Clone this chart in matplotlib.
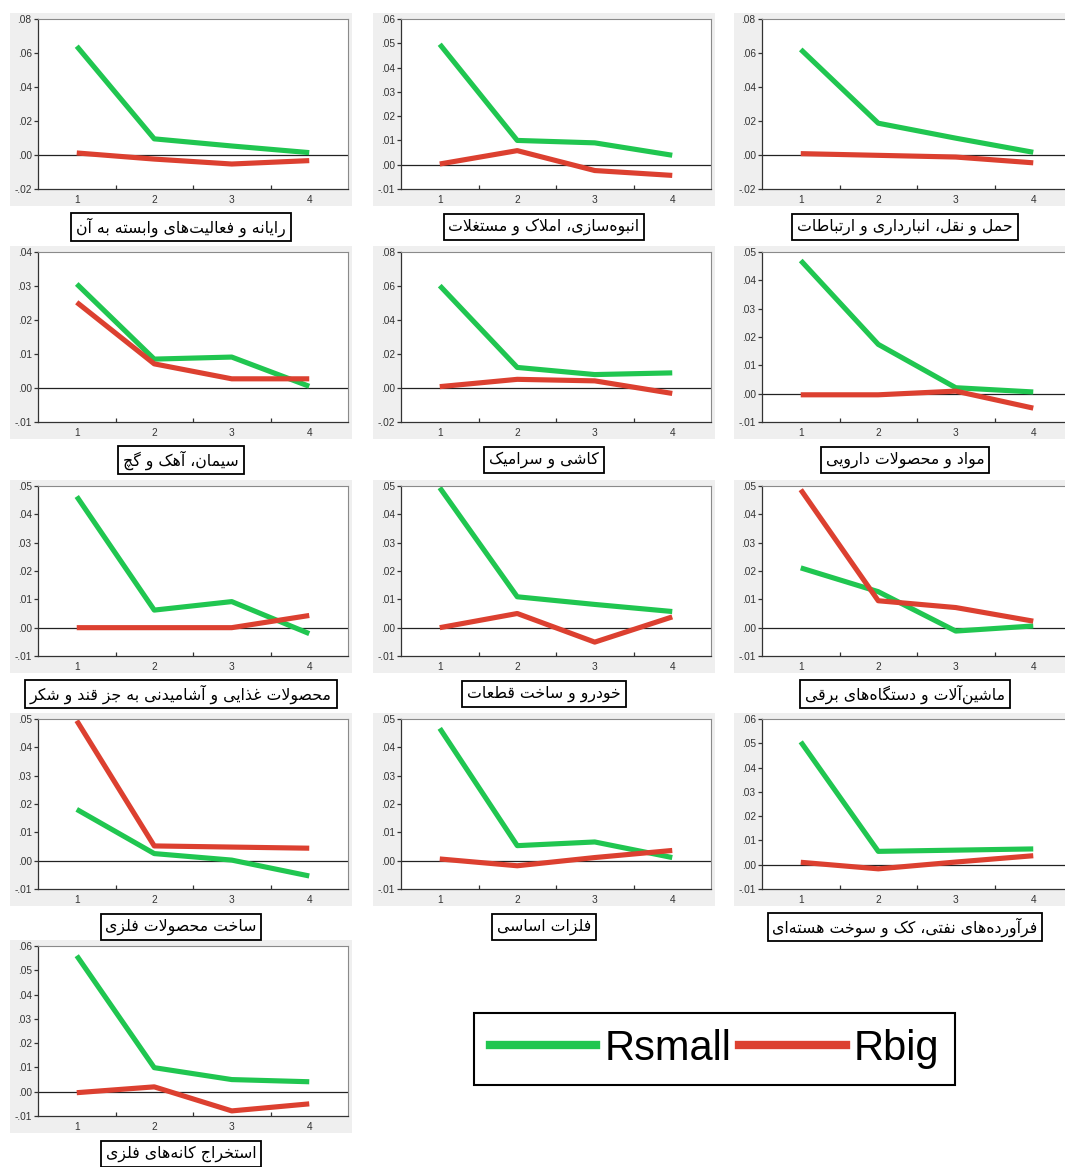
import matplotlib
matplotlib.use("Agg")
import matplotlib.pyplot as plt
from matplotlib.patches import Rectangle
from matplotlib.lines import Line2D
from matplotlib.ticker import FixedLocator, FuncFormatter

# sector names (logical order, shaped below for display)
sectors = [
    "رایانه و فعالیت\u200cهای وابسته به آن",
    "انبوه\u200cسازی، املاک و مستغلات",
    "حمل و نقل، انبارداری و ارتباطات",
    "سیمان، آهک و گچ",
    "کاشی و سرامیک",
    "مواد و محصولات دارویی",
    "محصولات غذایی و آشامیدنی به جز قند و شکر",
    "خودرو و ساخت قطعات",
    "ماشین\u200cآلات و دستگاه\u200cهای برقی",
    "ساخت محصولات فلزی",
    "فلزات اساسی",
    "فرآورده\u200cهای نفتی، کک و سوخت هسته\u200cای",
    "استخراج کانه\u200cهای فلزی",
]

periods = [1, 2, 3, 4]

rsmall = [
    [0.064, 0.0095, 0.0053, 0.0014],
    [0.0496, 0.0100, 0.0090, 0.0039],
    [0.0621, 0.0187, 0.0099, 0.0016],
    [0.0306, 0.0085, 0.0091, 0.0005],
    [0.0602, 0.0121, 0.0079, 0.0089],
    [0.0470, 0.0174, 0.0021, 0.0006],
    [0.0463, 0.0062, 0.0092, -0.0021],
    [0.0494, 0.0109, 0.0082, 0.0057],
    [0.0211, 0.0127, -0.0012, 0.0006],
    [0.0181, 0.0025, 0.0002, -0.0054],
    [0.0467, 0.0053, 0.0066, 0.0011],
    [0.0506, 0.0055, 0.0060, 0.0065],
    [0.0560, 0.0099, 0.0050, 0.0041],
]

rbig = [
    [0.0012, -0.0024, -0.0053, -0.0033],
    [0.0003, 0.0058, -0.0024, -0.0044],
    [0.0008, -0.0002, -0.0012, -0.0046],
    [0.0252, 0.0071, 0.0027, 0.0027],
    [0.0008, 0.0051, 0.0042, -0.0032],
    [-0.0004, -0.0004, 0.0009, -0.0051],
    [0.0000, 0.0000, 0.0000, 0.0043],
    [0.0000, 0.0050, -0.0051, 0.0038],
    [0.0487, 0.0095, 0.0071, 0.0023],
    [0.0494, 0.0052, 0.0048, 0.0044],
    [0.0006, -0.0018, 0.0011, 0.0036],
    [0.0010, -0.0017, 0.0011, 0.0037],
    [-0.0004, 0.0020, -0.0079, -0.0050],
]

# (ymin, ymax, step) of each panel's value axis
y_ranges = [
    (-0.02, 0.08, 0.02),
    (-0.01, 0.06, 0.01),
    (-0.02, 0.08, 0.02),
    (-0.01, 0.04, 0.01),
    (-0.02, 0.08, 0.02),
    (-0.01, 0.05, 0.01),
    (-0.01, 0.05, 0.01),
    (-0.01, 0.05, 0.01),
    (-0.01, 0.05, 0.01),
    (-0.01, 0.05, 0.01),
    (-0.01, 0.05, 0.01),
    (-0.01, 0.06, 0.01),
    (-0.01, 0.06, 0.01),
]

series_names = ["Rsmall", "Rbig"]

GREEN = "#20c650"
RED = "#dc4030"

# --- minimal Persian shaping (matplotlib has no complex text layout) ---
FORMS = {
    "\u0627": (0xFE8D, 0xFE8E), "\u0622": (0xFE81, 0xFE82),
    "\u062F": (0xFEA9, 0xFEAA), "\u0630": (0xFEAB, 0xFEAC),
    "\u0631": (0xFEAD, 0xFEAE), "\u0632": (0xFEAF, 0xFEB0),
    "\u0648": (0xFEED, 0xFEEE), "\uFEFB": (0xFEFB, 0xFEFC),
    "\u0628": (0xFE8F, 0xFE90, 0xFE91, 0xFE92),
    "\u062A": (0xFE95, 0xFE96, 0xFE97, 0xFE98),
    "\u062B": (0xFE99, 0xFE9A, 0xFE9B, 0xFE9C),
    "\u062C": (0xFE9D, 0xFE9E, 0xFE9F, 0xFEA0),
    "\u062D": (0xFEA1, 0xFEA2, 0xFEA3, 0xFEA4),
    "\u062E": (0xFEA5, 0xFEA6, 0xFEA7, 0xFEA8),
    "\u0633": (0xFEB1, 0xFEB2, 0xFEB3, 0xFEB4),
    "\u0634": (0xFEB5, 0xFEB6, 0xFEB7, 0xFEB8),
    "\u0635": (0xFEB9, 0xFEBA, 0xFEBB, 0xFEBC),
    "\u0636": (0xFEBD, 0xFEBE, 0xFEBF, 0xFEC0),
    "\u0637": (0xFEC1, 0xFEC2, 0xFEC3, 0xFEC4),
    "\u0638": (0xFEC5, 0xFEC6, 0xFEC7, 0xFEC8),
    "\u0639": (0xFEC9, 0xFECA, 0xFECB, 0xFECC),
    "\u063A": (0xFECD, 0xFECE, 0xFECF, 0xFED0),
    "\u0641": (0xFED1, 0xFED2, 0xFED3, 0xFED4),
    "\u0642": (0xFED5, 0xFED6, 0xFED7, 0xFED8),
    "\u0644": (0xFEDD, 0xFEDE, 0xFEDF, 0xFEE0),
    "\u0645": (0xFEE1, 0xFEE2, 0xFEE3, 0xFEE4),
    "\u0646": (0xFEE5, 0xFEE6, 0xFEE7, 0xFEE8),
    "\u0647": (0xFEE9, 0xFEEA, 0xFEEB, 0xFEEC),
    "\u06CC": (0xFEEF, 0xFEF0, 0xFEF3, 0xFEF4),
    "\u06A9": (0xFB8E, 0xFB8F, 0xFB90, 0xFB91),
    "\u06AF": (0xFB92, 0xFB93, 0xFB94, 0xFB95),
    "\u0686": (0xFB7A, 0xFB7B, 0xFB7C, 0xFB7D),
}


def shape(text):
    chars = list(text.replace("\u0644\u0627", "\uFEFB"))
    out = []
    for i, c in enumerate(chars):
        if c not in FORMS:
            out.append(c)
            continue
        prev = chars[i - 1] if i > 0 else ""
        nxt = chars[i + 1] if i + 1 < len(chars) else ""
        jp = prev in FORMS and len(FORMS[prev]) == 4
        f = FORMS[c]
        jn = len(f) == 4 and nxt in FORMS
        if len(f) == 2:
            code = f[1] if jp else f[0]
        elif jp and jn:
            code = f[3]
        elif jp:
            code = f[1]
        elif jn:
            code = f[2]
        else:
            code = f[0]
        out.append(chr(code))
    return "".join(out).replace("\u200c", "")[::-1]


def tick_fmt(v, pos):
    s = "%.2f" % v
    return s.replace("0.", ".", 1)


W, H = 1065, 1167
fig = plt.figure(figsize=(W / 100, H / 100), dpi=100)
fig.patch.set_facecolor("white")

col_left = [38, 401, 762]
row_top = [19, 252, 486, 719, 946]
plot_w, plot_h = 310, 170

for k in range(len(sectors)):
    r, c = divmod(k, 3)
    x0, y0 = col_left[c], row_top[r]

    # grey frame around each graph
    fig.patches.append(Rectangle(((x0 - 28) / W, 1 - (y0 + plot_h + 17) / H),
                                 (plot_w + 32) / W, (plot_h + 23) / H,
                                 transform=fig.transFigure, facecolor="#efefef",
                                 edgecolor="none", zorder=-1))

    ax = fig.add_axes([x0 / W, 1 - (y0 + plot_h) / H, plot_w / W, plot_h / H])
    ax.set_facecolor("white")
    ymin, ymax, step = y_ranges[k]
    ax.plot(periods, rsmall[k], color=GREEN, lw=3.7, solid_capstyle="butt")
    ax.plot(periods, rbig[k], color=RED, lw=3.7, solid_capstyle="butt")
    ax.axhline(0, color="#222222", lw=0.9, zorder=1)
    ax.set_xlim(0.5, 4.5)
    ax.set_ylim(ymin, ymax)

    n = int(round((ymax - ymin) / step))
    ax.yaxis.set_major_locator(FixedLocator([ymin + i * step for i in range(n + 1)]))
    ax.yaxis.set_major_formatter(FuncFormatter(tick_fmt))
    ax.xaxis.set_major_locator(FixedLocator(periods))
    ax.xaxis.set_minor_locator(FixedLocator([1.5, 2.5, 3.5]))
    ax.tick_params(axis="x", which="major", length=0, pad=4.5, labelsize=7.3, labelcolor="#333333")
    ax.tick_params(axis="x", which="minor", direction="in", length=3, width=0.9, color="#333333")
    ax.tick_params(axis="y", direction="out", length=3, width=0.9, pad=1.5,
                   labelsize=7.3, labelcolor="#333333", color="#333333")
    for lab in ax.get_xticklabels() + ax.get_yticklabels():
        lab.set_family("Liberation Sans")
    for side in ["left", "bottom"]:
        ax.spines[side].set_color("#333333")
        ax.spines[side].set_linewidth(0.9)
    for side in ["top", "right"]:
        ax.spines[side].set_color("#8a8a8a")
        ax.spines[side].set_linewidth(0.8)

    fig.text((x0 + plot_w / 2 - 12) / W, 1 - (y0 + plot_h + 38) / H, shape(sectors[k]),
             ha="center", va="center", fontsize=11.3, family=["DejaVu Sans"],
             bbox=dict(boxstyle="square,pad=0.3", facecolor="white",
                       edgecolor="black", linewidth=1.3))

handles = [Line2D([], [], color=GREEN, lw=6), Line2D([], [], color=RED, lw=6)]
leg = fig.legend(handles, series_names, loc="center", ncol=2,
                 bbox_to_anchor=((472 + 957) / 2 / W, 1 - 1049 / H),
                 prop={"family": "Liberation Sans", "size": 30},
                 handlelength=2.55, handletextpad=0.2, columnspacing=0.2,
                 borderpad=0.38, borderaxespad=0, fancybox=False, framealpha=1,
                 edgecolor="black")
leg.get_frame().set_linewidth(1.5)

fig.savefig("out.png", dpi=100, facecolor="white")
